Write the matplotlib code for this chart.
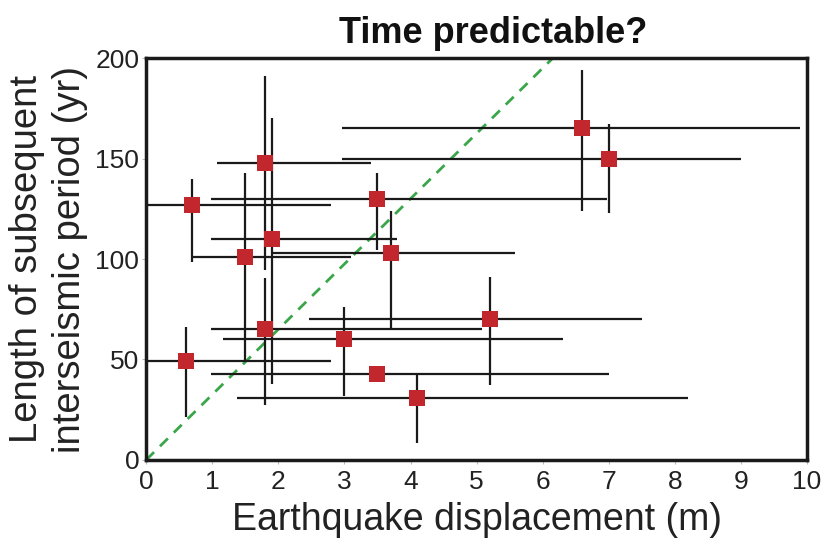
import matplotlib
matplotlib.use("Agg")
import matplotlib.pyplot as plt
import numpy as np

plt.rcParams['font.family'] = ['Liberation Sans', 'DejaVu Sans']

# Displacement (m) and subsequent interseismic period (yr) for each event
disp = [0.6, 0.7, 1.5, 1.8, 1.9, 1.8, 3.0, 3.5, 3.7, 3.5, 4.1, 5.2, 6.6, 7.0]
period = [49, 127, 101, 148, 110, 65, 60, 130, 103, 43, 31, 70, 165, 150]

# Uncertainty ranges (lower / upper bounds)
disp_lo = [0.0, 0.0, 0.7, 1.07, 0.98, 0.98, 1.17, 0.98, 1.9, 0.98, 1.38, 2.47, 2.97, 2.97]
disp_hi = [2.8, 2.8, 3.1, 3.4, 3.8, 5.08, 6.3, 6.97, 5.58, 7.0, 8.2, 7.5, 9.9, 9.0]
period_lo = [21.5, 98.5, 49, 94.5, 38, 27.4, 32, 104.5, 64.7, 43, 8.5, 37.3, 124, 123]
period_hi = [66, 140, 143, 191, 170, 90.5, 76, 143, 124, 43, 43, 91, 194, 167]

# Slope of the time-predictable reference line (yr per m)
slope = 32.5

disp_a = np.array(disp)
period_a = np.array(period)
xerr = [disp_a - np.array(disp_lo), np.array(disp_hi) - disp_a]
yerr = [period_a - np.array(period_lo), np.array(period_hi) - period_a]

fig = plt.figure(figsize=(8.21, 5.43), dpi=100)
ax = fig.add_axes([0.178, 0.153, 0.805, 0.740])

xs = np.array([0, 10])
ax.plot(xs, slope * xs, linestyle=(0, (4, 3)), color='#3aa64a', lw=2, zorder=1)

ax.errorbar(disp, period, xerr=xerr, yerr=yerr, fmt='none',
            ecolor='#1a1a1a', elinewidth=1.6, capsize=0, zorder=2)
ax.scatter(disp, period, marker='s', s=140, color='#c1272d', zorder=3,
           linewidths=0)

ax.set_xlim(0, 10)
ax.set_ylim(0, 200)
ax.set_xticks(range(0, 11))
ax.set_yticks([0, 50, 100, 150, 200])

for s in ax.spines.values():
    s.set_linewidth(2.5)
    s.set_color('#1a1a1a')

ax.tick_params(axis='both', length=3, width=0.8, color='#bbbbbb',
               labelsize=19, labelcolor='#222222')
ax.tick_params(axis='x', pad=4)
ax.tick_params(axis='y', pad=2)

ax.set_xlabel('Earthquake displacement (m)', fontsize=27, color='#222222', labelpad=6)
ax.set_ylabel('Length of subsequent\ninterseismic period (yr)', fontsize=27.5,
              color='#222222', labelpad=5, linespacing=1.25)
fig.text(0.178 + 0.805 * 0.525, (543 - 43) / 543, 'Time predictable?',
         fontsize=26, fontweight='bold', ha='center', va='baseline',
         color='#111111')

fig.savefig('out.png', dpi=100)
